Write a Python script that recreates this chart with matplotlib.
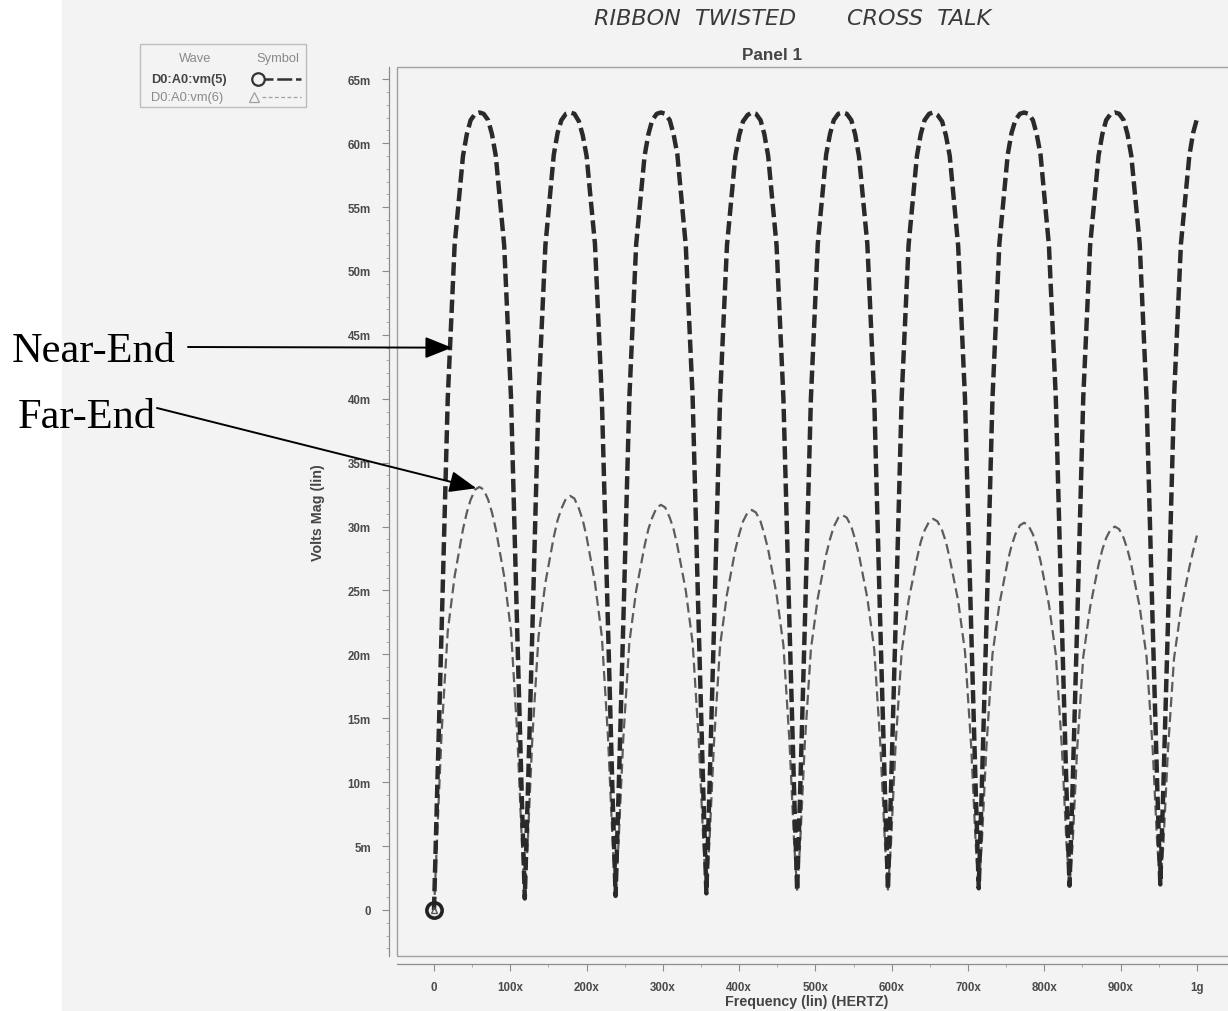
import matplotlib
matplotlib.use("Agg")
import matplotlib.pyplot as plt
from matplotlib.lines import Line2D
from matplotlib.patches import Rectangle
from matplotlib.ticker import FixedLocator, MultipleLocator

plt.rcParams['font.family'] = ['Liberation Sans', 'DejaVu Sans']

# AC sweep points (MHz) and crosstalk magnitude (mV) for vm(5) near end, vm(6) far end
freq_mhz = [
    0, 4, 10, 18, 27, 38, 43, 48, 54, 59.5, 65, 71, 76, 81, 92, 101, 109, 115,
    119, 123, 129, 137, 146, 157, 162, 167, 173, 178.5, 184, 190, 195, 200, 211, 220, 228, 234,
    238, 242, 248, 256, 265, 276, 281, 286, 292, 297.5, 303, 309, 314, 319, 330, 339, 347, 353,
    357, 361, 367, 375, 384, 395, 400, 405, 411, 416.5, 422, 428, 433, 438, 449, 458, 466, 472,
    476, 480, 486, 494, 503, 514, 519, 524, 530, 535.5, 541, 547, 552, 557, 568, 577, 585, 591,
    595, 599, 605, 613, 622, 633, 638, 643, 649, 654.5, 660, 666, 671, 676, 687, 696, 704, 710,
    714, 718, 724, 732, 741, 752, 757, 762, 768, 773.5, 779, 785, 790, 795, 806, 815, 823, 829,
    833, 837, 843, 851, 860, 871, 876, 881, 887, 892.5, 898, 904, 909, 914, 925, 934, 942, 948,
    952, 956, 962, 970, 979, 990, 995, 1000,
]
near_end_mv = [
    0.0, 9.0, 22.0, 40.0, 52.0, 59.0, 60.7, 61.8, 62.3, 62.4, 62.3, 61.8, 60.7, 59.0, 52.0, 40.0, 22.0, 9.0,
    0.9, 9.2, 22.1, 40.1, 52.0, 59.1, 60.8, 61.8, 62.3, 62.4, 62.3, 61.7, 60.6, 59.0, 52.1, 40.0, 22.2, 9.1,
    1.1, 9.3, 22.2, 40.0, 52.1, 59.0, 60.7, 61.8, 62.3, 62.4, 62.3, 61.8, 60.7, 59.1, 52.0, 40.1, 22.1, 9.2,
    1.3, 9.3, 22.1, 40.1, 52.0, 59.0, 60.6, 61.7, 62.2, 62.4, 62.3, 61.8, 60.7, 59.0, 52.0, 40.0, 22.2, 9.3,
    1.5, 9.4, 22.2, 40.0, 52.1, 59.1, 60.7, 61.8, 62.3, 62.4, 62.3, 61.8, 60.7, 59.0, 52.1, 40.1, 22.2, 9.4,
    1.6, 9.4, 22.3, 40.1, 52.0, 59.0, 60.7, 61.8, 62.3, 62.4, 62.2, 61.7, 60.6, 59.0, 52.0, 40.0, 22.3, 9.5,
    1.7, 9.5, 22.2, 40.0, 52.1, 59.1, 60.8, 61.8, 62.3, 62.4, 62.3, 61.8, 60.7, 59.1, 52.0, 40.1, 22.3, 9.5,
    1.9, 9.6, 22.3, 40.1, 52.0, 59.0, 60.7, 61.8, 62.3, 62.4, 62.3, 61.8, 60.7, 59.0, 52.1, 40.0, 22.3, 9.6,
    2.0, 9.6, 22.4, 40.1, 52.1, 59.0, 60.8, 61.9,
]
far_end_mv = [
    0.0, 5.6, 13.9, 21.8, 26.1, 29.8, 31.1, 32.1, 32.9, 33.1, 32.9, 32.1, 31.1, 29.8, 26.1, 21.8, 13.9, 5.6,
    0.9, 5.5, 13.6, 21.4, 25.6, 29.2, 30.5, 31.4, 32.2, 32.4, 32.2, 31.4, 30.5, 29.2, 25.6, 21.4, 13.6, 5.5,
    1.1, 5.4, 13.3, 20.9, 25.0, 28.5, 29.8, 30.7, 31.5, 31.7, 31.5, 30.7, 29.8, 28.5, 25.0, 20.9, 13.3, 5.4,
    1.3, 5.3, 13.1, 20.7, 24.7, 28.2, 29.4, 30.4, 31.1, 31.3, 31.1, 30.4, 29.4, 28.2, 24.7, 20.7, 13.1, 5.3,
    1.5, 5.3, 13.0, 20.4, 24.4, 27.8, 29.0, 30.0, 30.7, 30.9, 30.7, 30.0, 29.0, 27.8, 24.4, 20.4, 13.0, 5.3,
    1.6, 5.2, 12.9, 20.2, 24.2, 27.5, 28.8, 29.7, 30.4, 30.6, 30.4, 29.7, 28.8, 27.5, 24.2, 20.2, 12.9, 5.2,
    1.7, 5.2, 12.7, 20.0, 23.9, 27.3, 28.5, 29.4, 30.1, 30.3, 30.1, 29.4, 28.5, 27.3, 23.9, 20.0, 12.7, 5.2,
    1.9, 5.1, 12.6, 19.8, 23.7, 27.0, 28.2, 29.1, 29.8, 30.0, 29.8, 29.1, 28.2, 27.0, 23.7, 19.8, 12.6, 5.1,
    2.0, 5.1, 12.5, 19.7, 23.5, 26.8, 28.1, 29.3,
]

y_ticks = [0, 5, 10, 15, 20, 25, 30, 35, 40, 45, 50, 55, 60, 65]
y_tick_labels = ['0', '5m', '10m', '15m', '20m', '25m', '30m', '35m', '40m',
                 '45m', '50m', '55m', '60m', '65m']
x_ticks = [0, 100, 200, 300, 400, 500, 600, 700, 800, 900, 1000]
x_tick_labels = ['0', '100x', '200x', '300x', '400x', '500x', '600x', '700x',
                 '800x', '900x', '1g']

W, H = 1228, 1012
fig = plt.figure(figsize=(W / 100, H / 100), dpi=100)
fig.patch.set_facecolor('white')


def fx(px):
    return px / W


def fy(py):
    return 1 - py / H


# scanned page tone
fig.add_artist(Rectangle((fx(62), 0), 1, 1, transform=fig.transFigure,
                         color='#f3f3f3', zorder=-10))

ax = fig.add_axes([fx(397), fy(957), fx(1245) - fx(397), fy(68) - fy(957)])
ax.set_facecolor('none')
ax.set_xlim(-48.5, 1063)
ax.set_ylim(-3.6, 65.96)

# plot frame plus detached axis lines
ax.add_patch(Rectangle((0, 0), 1, 1, transform=ax.transAxes, fill=False,
                       ec='#a0a0a0', lw=1.0, clip_on=False))
for s in ['top', 'right']:
    ax.spines[s].set_visible(False)
for s in ['left', 'bottom']:
    ax.spines[s].set_position(('outward', 5.8))
    ax.spines[s].set_color('#8c8c8c')
    ax.spines[s].set_linewidth(0.9)

ax.yaxis.set_major_locator(FixedLocator(y_ticks))
ax.yaxis.set_minor_locator(MultipleLocator(1))
ax.xaxis.set_major_locator(FixedLocator(x_ticks))
ax.xaxis.set_minor_locator(MultipleLocator(50))
ax.set_yticklabels(y_tick_labels, fontweight='bold')
ax.set_xticklabels(x_tick_labels, fontweight='bold')
ax.tick_params(which='major', direction='out', length=5, width=0.8, color='#8c8c8c',
               labelsize=8.3, labelcolor='#4a4a4a')
ax.tick_params(axis='y', which='major', pad=8)
ax.tick_params(axis='x', which='major', pad=7)
ax.tick_params(which='minor', direction='out', length=2.5, width=0.6, color='#a0a0a0')

ax.set_ylabel('Volts Mag (lin)', fontsize=10.3, fontweight='bold', color='#444444')
ax.yaxis.set_label_coords(-0.085, 0.5)
ax.set_xlabel('Frequency (lin) (HERTZ)', fontsize=10.3, fontweight='bold', color='#444444')
ax.xaxis.set_label_coords(0.483, -0.043)

# waves
ax.plot(freq_mhz, near_end_mv, color='#2a2a2a', lw=3.2, dashes=(3.0, 1.2),
        dash_capstyle='butt', zorder=3)
ax.plot(freq_mhz, far_end_mv, color='#5c5c5c', lw=1.6, dashes=(4.5, 2.3),
        dash_capstyle='butt', zorder=2)
ax.plot(freq_mhz[0], near_end_mv[0], 'o', ms=11, mfc='none', mec='#222222',
        mew=2.6, zorder=4, clip_on=False)
ax.plot(freq_mhz[0], far_end_mv[0], '^', ms=5, mfc='none', mec='#555555',
        mew=1.0, zorder=4, clip_on=False)

# legend panel
fig.add_artist(Rectangle((fx(140), fy(108)), fx(306) - fx(140), fy(45) - fy(108),
                         transform=fig.transFigure, fill=False, ec='#bdbdbd', lw=1))
fig.text(fx(195), fy(59), 'Wave', ha='center', va='center', fontsize=9.3, color='#8a8a8a')
fig.text(fx(278), fy(59), 'Symbol', ha='center', va='center', fontsize=9.3, color='#8a8a8a')
fig.text(fx(151), fy(80), 'D0:A0:vm(5)', ha='left', va='center', fontsize=9.3,
         fontweight='bold', color='#444444')
fig.text(fx(151), fy(98), 'D0:A0:vm(6)', ha='left', va='center', fontsize=9.3,
         color='#8a8a8a')
fig.add_artist(Line2D([fx(258), fx(301)], [fy(80), fy(80)], transform=fig.transFigure,
                      color='#333333', lw=1.8, dashes=(6, 1.5)))
fig.add_artist(Line2D([fx(258)], [fy(80)], transform=fig.transFigure, marker='o',
                      ms=9, mfc='#f3f3f3', mec='#333333', mew=1.6))
fig.add_artist(Line2D([fx(262), fx(301)], [fy(98), fy(98)], transform=fig.transFigure,
                      color='#a0a0a0', lw=0.9, dashes=(3, 2)))
fig.add_artist(Line2D([fx(254)], [fy(98)], transform=fig.transFigure, marker='^',
                      ms=7, mfc='#f3f3f3', mec='#a0a0a0', mew=0.9))

# titles
fig.text(fx(772), fy(56), 'Panel 1', ha='center', va='center', fontsize=12.3,
         fontweight='bold', color='#444444')
fig.text(fx(695), fy(19), 'RIBBON  TWISTED', ha='center', va='center', fontsize=16,
         style='italic', color='#3a3a3a', family='DejaVu Sans')
fig.text(fx(919), fy(19), 'CROSS  TALK', ha='center', va='center', fontsize=16,
         style='italic', color='#3a3a3a', family='DejaVu Sans')

# call-outs
fig.text(fx(12), fy(362), 'Near-End', ha='left', va='baseline', fontsize=30.5,
         family='Liberation Serif', color='black')
fig.text(fx(18), fy(428), 'Far-End', ha='left', va='baseline', fontsize=30.5,
         family='Liberation Serif', color='black')
arrow = dict(arrowstyle='-|>,head_length=0.55,head_width=0.22', mutation_scale=30,
             lw=1.4, color='black', shrinkA=0, shrinkB=0)
ax.annotate('', xy=(23.5, 44.0), xycoords='data', xytext=(fx(188), fy(348)),
            textcoords='figure fraction', arrowprops=arrow, annotation_clip=False)
ax.annotate('', xy=(55.5, 33.0), xycoords='data', xytext=(fx(157), fy(409)),
            textcoords='figure fraction', arrowprops=arrow, annotation_clip=False)

fig.savefig('out.png', dpi=100)
